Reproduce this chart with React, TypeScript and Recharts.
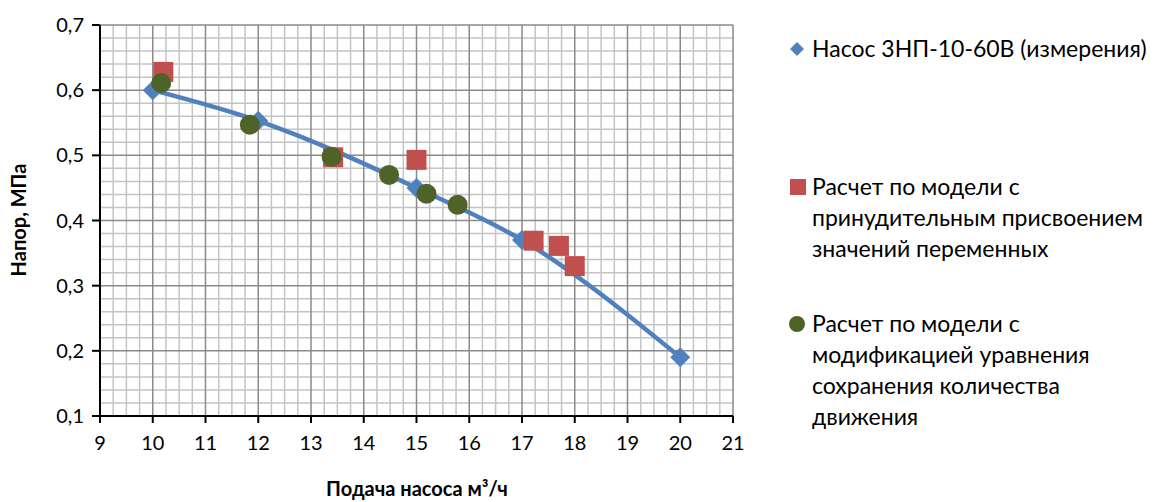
import React from 'react';
import { ComposedChart, Line, Scatter, XAxis, YAxis, CartesianGrid } from 'recharts';

// Measured pump curve (flow m3/h -> head MPa)
const measuredQ = [10, 12, 15, 17, 20];
const measuredH = [0.6, 0.553, 0.45, 0.37, 0.19];

// Model with forced assignment of variables
const forcedQ = [10.2, 13.42, 15.0, 17.22, 17.7, 18.0];
const forcedH = [0.628, 0.497, 0.493, 0.369, 0.361, 0.33];

// Model with modified momentum equation
const modifiedQ = [10.16, 11.84, 13.39, 14.48, 15.19, 15.78];
const modifiedH = [0.611, 0.547, 0.498, 0.47, 0.441, 0.424];

const xTicks = [9, 10, 11, 12, 13, 14, 15, 16, 17, 18, 19, 20, 21];
const yTicks = [0.1, 0.2, 0.3, 0.4, 0.5, 0.6, 0.7];

const seriesNames = [
  ['Насос 3НП-10-60В (измерения)'],
  ['Расчет по модели с', 'принудительным присвоением', 'значений переменных'],
  ['Расчет по модели с', 'модификацией уравнения', 'сохранения количества', 'движения'],
];

const BLUE = '#4f81bd';
const RED = '#c0504d';
const GREEN = '#4f6228';
const FONT = 'Lato, "Open Sans", "Noto Sans", sans-serif';

const toPoints = (qs: number[], hs: number[]) => qs.map((q, i) => ({ q, h: hs[i] }));
const measured = toPoints(measuredQ, measuredH);
const forced = toPoints(forcedQ, forcedH);
const modified = toPoints(modifiedQ, modifiedH);

// minor grid: quarter steps on x, 0.02 steps on y
const minorX: number[] = [];
for (let i = 0; i < xTicks.length - 1; i++) {
  for (let k = 1; k < 4; k++) minorX.push(xTicks[i] + k * 0.25);
}
const minorY: number[] = [];
for (let i = 0; i < yTicks.length - 1; i++) {
  for (let k = 1; k < 5; k++) minorY.push(+(yTicks[i] + k * 0.02).toFixed(2));
}

const Diamond = ({ cx, cy, r = 10 }: any) => (
  <polygon points={`${cx},${cy - r} ${cx + r},${cy} ${cx},${cy + r} ${cx - r},${cy}`} fill={BLUE} />
);
const Square = ({ cx, cy }: any) => <rect x={cx - 10} y={cy - 10} width={20} height={20} fill={RED} />;
const Dot = ({ cx, cy }: any) => <circle cx={cx} cy={cy} r={10} fill={GREEN} />;

const legendMarkers = [
  <polygon key="d" points="8,1 15,8 8,15 1,8" fill={BLUE} />,
  <rect key="s" x={1} y={0} width={16} height={16} fill={RED} />,
  <circle key="c" cx={8} cy={8} r={8} fill={GREEN} />,
];
const legendTops = [33, 171, 308];

export default function App() {
  return (
    <div style={{ position: 'absolute', left: 0, top: 0, width: 1173, height: 502, background: '#fff', fontFamily: FONT }}>
      <ComposedChart width={1173} height={502} margin={{ top: 25, right: 440, bottom: 0, left: 0 }}>
        <CartesianGrid verticalValues={minorX} horizontalValues={minorY} stroke="#c4c4c4" strokeWidth={1.5} />
        <CartesianGrid verticalValues={xTicks} horizontalValues={yTicks} stroke="#8a8a8a" strokeWidth={1.5} />
        <XAxis
          dataKey="q"
          type="number"
          domain={[9, 21]}
          ticks={xTicks}
          interval={0}
          height={86}
          tickSize={7}
          tickMargin={13}
          axisLine={{ stroke: '#000', strokeWidth: 2 }}
          tickLine={{ stroke: '#000', strokeWidth: 2 }}
          tick={{ fontSize: 20, fill: '#000' }}
        />
        <YAxis
          dataKey="h"
          type="number"
          domain={[0.1, 0.7]}
          ticks={yTicks}
          interval={0}
          width={100}
          tickSize={8}
          tickMargin={8}
          tickFormatter={(v: number) => v.toFixed(1).replace('.', ',')}
          axisLine={{ stroke: '#000', strokeWidth: 2 }}
          tickLine={{ stroke: '#000', strokeWidth: 2 }}
          tick={{ fontSize: 20, fill: '#000' }}
        />
        <Line
          data={measured}
          dataKey="h"
          type="monotone"
          stroke={BLUE}
          strokeWidth={4.5}
          dot={(p: any) => <Diamond key={p.index} cx={p.cx} cy={p.cy} />}
          activeDot={false}
          isAnimationActive={false}
        />
        <Scatter data={forced} dataKey="h" shape={(p: any) => <Square cx={p.cx} cy={p.cy} />} isAnimationActive={false} />
        <Scatter data={modified} dataKey="h" shape={(p: any) => <Dot cx={p.cx} cy={p.cy} />} isAnimationActive={false} />
      </ComposedChart>

      <div
        style={{
          position: 'absolute', left: 417, top: 488, transform: 'translate(-50%, -50%)',
          fontSize: 20, fontWeight: 700, whiteSpace: 'nowrap',
        }}
      >
        Подача насоса м³/ч
      </div>
      <div
        style={{
          position: 'absolute', left: 18, top: 220, transform: 'translate(-50%, -50%) rotate(-90deg)',
          fontSize: 20, fontWeight: 700, whiteSpace: 'nowrap',
        }}
      >
        Напор, МПа
      </div>

      {seriesNames.map((lines, i) => (
        <div key={i} style={{ position: 'absolute', left: 789, top: legendTops[i], display: 'flex', alignItems: 'flex-start' }}>
          <svg width={18} height={16} style={{ marginTop: 8, marginRight: 5 }}>
            {legendMarkers[i]}
          </svg>
          <div style={{ fontSize: 23, lineHeight: '31px', whiteSpace: 'nowrap' }}>
            {lines.map((t, j) => (
              <div key={j}>{t}</div>
            ))}
          </div>
        </div>
      ))}
    </div>
  );
}
